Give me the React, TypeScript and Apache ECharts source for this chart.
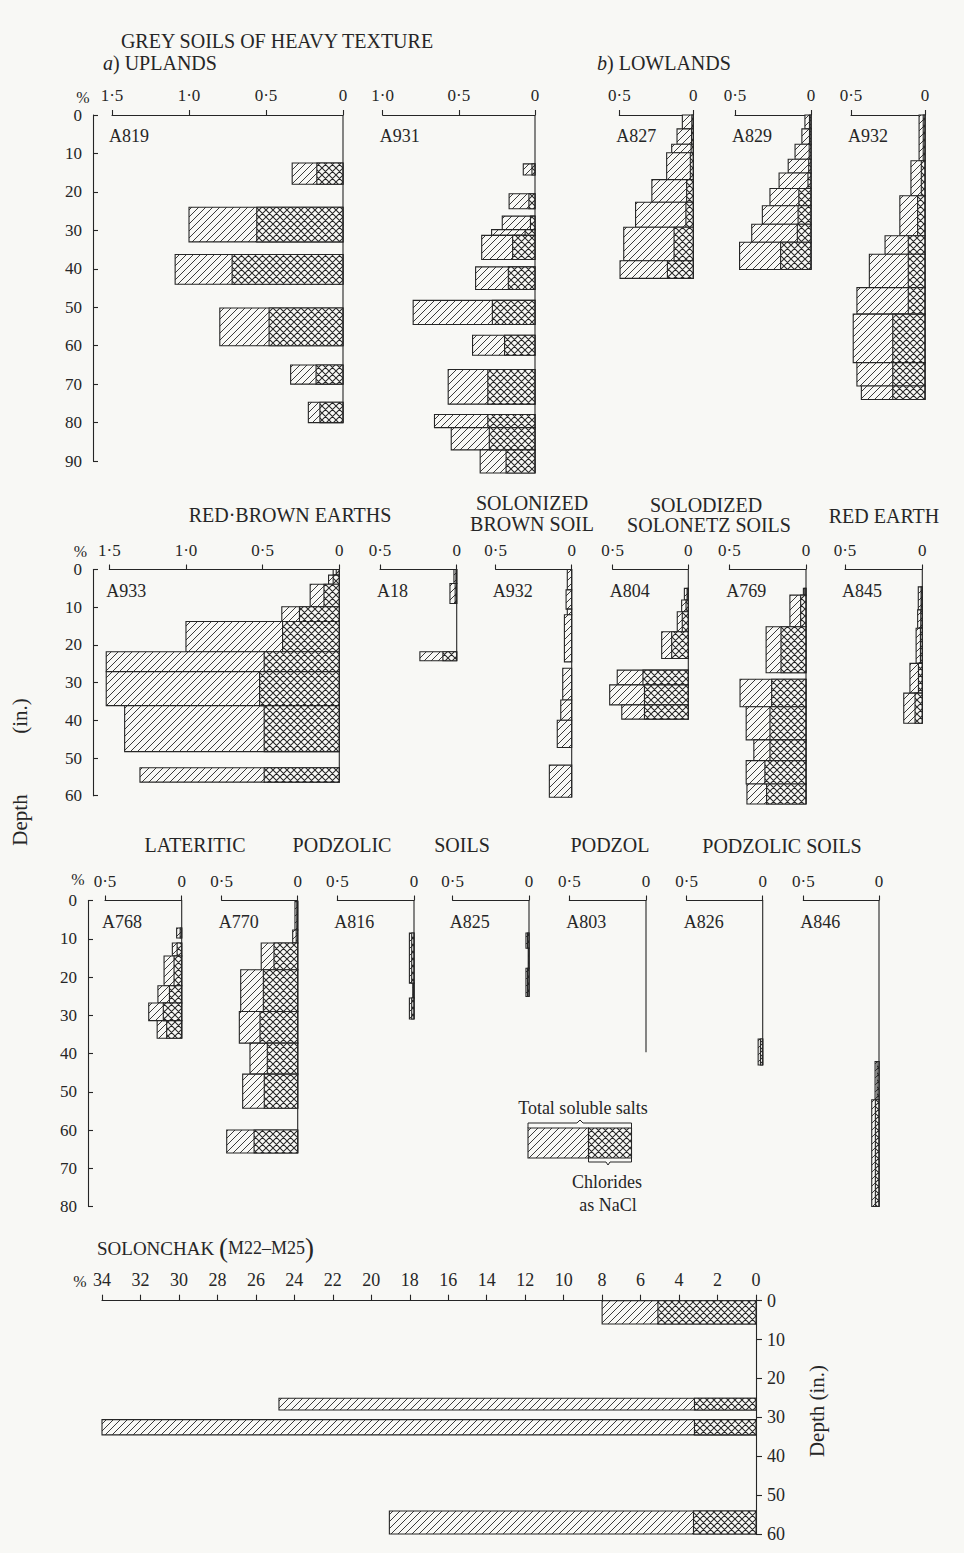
import React, { useEffect, useRef } from 'react';
import * as echarts from 'echarts';

// Each sample: [top depth (in.), bottom depth (in.), total soluble salts %, chlorides as NaCl %]
type Sample = [number, number, number, number];

// Grey soils of heavy texture — uplands
const A819: Sample[] = [
  [12.5, 18.0, 0.33, 0.17],
  [24.0, 33.0, 1.0, 0.56],
  [36.3, 44.0, 1.09, 0.72],
  [50.2, 60.0, 0.8, 0.48],
  [65.0, 70.0, 0.34, 0.175],
  [74.7, 80.0, 0.225, 0.15],
];
const A931: Sample[] = [
  [12.7, 15.6, 0.077, 0.02],
  [20.5, 24.4, 0.17, 0.04],
  [26.3, 29.8, 0.215, 0.03],
  [29.8, 31.3, 0.285, 0.065],
  [31.3, 37.6, 0.35, 0.147],
  [39.5, 45.4, 0.39, 0.175],
  [48.2, 54.5, 0.8, 0.28],
  [57.3, 62.5, 0.41, 0.2],
  [66.2, 75.2, 0.57, 0.31],
  [77.9, 81.3, 0.66, 0.31],
  [81.3, 87.1, 0.55, 0.3],
  [87.1, 93.1, 0.36, 0.19],
];
// Grey soils of heavy texture — lowlands
const A827: Sample[] = [
  [0, 3.6, 0.074, 0.01],
  [3.6, 7.6, 0.11, 0.012],
  [7.6, 9.8, 0.146, 0.015],
  [9.8, 16.8, 0.18, 0.02],
  [16.8, 22.7, 0.28, 0.045],
  [22.7, 29.2, 0.39, 0.05],
  [29.2, 37.9, 0.47, 0.13],
  [37.9, 42.5, 0.495, 0.175],
];
const A829: Sample[] = [
  [0, 3.6, 0.04, 0.01],
  [3.6, 7.6, 0.06, 0.01],
  [7.6, 11.5, 0.105, 0.012],
  [11.5, 15.1, 0.15, 0.015],
  [15.1, 19.1, 0.21, 0.02],
  [19.1, 23.6, 0.27, 0.08],
  [23.6, 28.4, 0.32, 0.085],
  [28.4, 33.1, 0.39, 0.09],
  [33.1, 40.2, 0.47, 0.2],
];
const A932_GREY: Sample[] = [
  [0, 11.9, 0.04, 0.012],
  [11.9, 21.0, 0.095, 0.025],
  [21.0, 31.4, 0.17, 0.05],
  [31.4, 36.2, 0.27, 0.113],
  [36.2, 44.9, 0.376, 0.113],
  [44.9, 51.8, 0.46, 0.113],
  [51.8, 64.4, 0.485, 0.218],
  [64.4, 70.5, 0.46, 0.218],
  [70.5, 74.0, 0.43, 0.218],
];
// Red-brown earths
const A933: Sample[] = [
  [0, 1.5, 0.04, 0.02],
  [1.5, 3.9, 0.07, 0.04],
  [3.9, 9.9, 0.19, 0.1],
  [9.9, 13.8, 0.375, 0.26],
  [13.8, 21.8, 1.0, 0.37],
  [21.8, 27.1, 1.52, 0.49],
  [27.1, 36.1, 1.52, 0.52],
  [36.1, 48.3, 1.4, 0.49],
  [52.6, 56.4, 1.3, 0.49],
];
const A18: Sample[] = [
  [0, 3.7, 0.018, 0.005],
  [3.7, 9.0, 0.044, 0.01],
  [21.8, 24.2, 0.24, 0.09],
];
// Solonized brown soil
const A932_SOLONIZED: Sample[] = [
  [0, 5.4, 0.029, 0],
  [5.4, 10.5, 0.037, 0],
  [10.5, 12.0, 0.029, 0],
  [12.0, 24.5, 0.048, 0],
  [26.2, 34.6, 0.059, 0],
  [34.6, 40.0, 0.072, 0],
  [40.0, 47.2, 0.095, 0],
  [51.9, 60.4, 0.147, 0],
];
// Solodized solonetz soils
const A804: Sample[] = [
  [5.0, 8.1, 0.026, 0.008],
  [8.1, 11.2, 0.044, 0.015],
  [11.2, 16.5, 0.073, 0.04],
  [16.5, 23.6, 0.176, 0.11],
  [26.7, 30.6, 0.47, 0.3],
  [30.6, 35.9, 0.52, 0.29],
  [35.9, 39.7, 0.44, 0.29],
];
const A769: Sample[] = [
  [5.0, 6.8, 0.017, 0.008],
  [6.8, 15.2, 0.105, 0.035],
  [15.2, 27.4, 0.26, 0.163],
  [29.1, 36.4, 0.43, 0.224],
  [36.4, 45.2, 0.39, 0.235],
  [45.2, 50.7, 0.34, 0.235],
  [50.7, 56.9, 0.39, 0.268],
  [56.9, 62.2, 0.385, 0.257],
];
// Red earth
const A845: Sample[] = [
  [4.6, 10.7, 0.026, 0.008],
  [10.7, 15.6, 0.03, 0.01],
  [15.6, 24.9, 0.04, 0.012],
  [24.9, 32.8, 0.08, 0.025],
  [32.8, 40.8, 0.12, 0.047],
];
// Lateritic podzolic soils
const A768: Sample[] = [
  [7.2, 9.8, 0.033, 0.01],
  [11.1, 14.5, 0.061, 0.03],
  [14.5, 22.3, 0.115, 0.05],
  [22.3, 26.8, 0.155, 0.08],
  [26.8, 31.4, 0.215, 0.12],
  [31.4, 36.0, 0.16, 0.098],
];
const A770: Sample[] = [
  [0.3, 7.7, 0.018, 0.006],
  [7.7, 11.1, 0.033, 0.01],
  [11.1, 18.1, 0.24, 0.156],
  [18.1, 29.0, 0.375, 0.226],
  [29.0, 37.3, 0.384, 0.248],
  [37.3, 45.4, 0.314, 0.2],
  [45.4, 54.3, 0.362, 0.22],
  [60.0, 66.0, 0.467, 0.287],
];
const A816: Sample[] = [
  [8.5, 21.6, 0.03, 0.015],
  [21.6, 25.5, 0.008, 0.004],
  [25.5, 31.0, 0.03, 0.015],
];
const A825: Sample[] = [
  [8.5, 12.5, 0.02, 0.01],
  [12.5, 17.7, 0.005, 0.002],
  [17.7, 25.1, 0.02, 0.01],
];
// Podzol
const A803: Sample[] = [[0, 39.7, 0, 0]];
// Podzolic soils
const A826: Sample[] = [[36.2, 43.0, 0.03, 0.015]];
const A846: Sample[] = [
  [42.1, 52.1, 0.026, 0.013],
  [52.1, 80.0, 0.048, 0.024],
];
// Solonchak (M22–M25)
const SOLONCHAK: Sample[] = [
  [0, 6.0, 8.0, 5.1],
  [25.1, 28.1, 24.8, 3.2],
  [30.6, 34.5, 34.0, 3.2],
  [54.1, 60.0, 19.06, 3.25],
];

const INK = '#262626';
const PAPER = '#f8f8f5';
const SERIF = '"Liberation Serif", "DejaVu Serif", serif';

// Row geometry: top of the depth scale, pixels per inch, plotted depth span, labelled depth axis
const ROWS = [
  { top: 115, ppi: 3.845, span: 95, axisMax: 90, axisX: 93 },
  { top: 569.5, ppi: 3.77, span: 63, axisMax: 60, axisX: 93 },
  { top: 900.5, ppi: 3.825, span: 81, axisMax: 80, axisX: 88 },
];

const PANELS = [
  { id: 'A819', samples: A819, max: 1.5, left: 112, right: 343, row: 0 },
  { id: 'A931', samples: A931, max: 1.0, left: 382.7, right: 535, row: 0 },
  { id: 'A827', samples: A827, max: 0.5, left: 619.3, right: 693.3, row: 0 },
  { id: 'A829', samples: A829, max: 0.5, left: 735, right: 811, row: 0 },
  { id: 'A932', samples: A932_GREY, max: 0.5, left: 851, right: 925, row: 0 },
  { id: 'A933', samples: A933, max: 1.5, left: 109.3, right: 339.3, row: 1 },
  { id: 'A18', samples: A18, max: 0.5, left: 380, right: 456.7, row: 1 },
  { id: 'A932', samples: A932_SOLONIZED, max: 0.5, left: 495.7, right: 571.7, row: 1 },
  { id: 'A804', samples: A804, max: 0.5, left: 612.7, right: 688.3, row: 1 },
  { id: 'A769', samples: A769, max: 0.5, left: 729.3, right: 806, row: 1 },
  { id: 'A845', samples: A845, max: 0.5, left: 845, right: 922.3, row: 1 },
  { id: 'A768', samples: A768, max: 0.5, left: 105, right: 181.7, row: 2 },
  { id: 'A770', samples: A770, max: 0.5, left: 221.7, right: 297.7, row: 2 },
  { id: 'A816', samples: A816, max: 0.5, left: 337.3, right: 414, row: 2 },
  { id: 'A825', samples: A825, max: 0.5, left: 452.7, right: 529, row: 2 },
  { id: 'A803', samples: A803, max: 0.5, left: 569.3, right: 646, row: 2 },
  { id: 'A826', samples: A826, max: 0.5, left: 686.7, right: 762.7, row: 2 },
  { id: 'A846', samples: A846, max: 0.5, left: 803.3, right: 879, row: 2 },
];

const SOLONCHAK_FRAME = { left: 102, right: 756, top: 1300.7, ppi: 3.888, depthMax: 60, pctMax: 34 };

const TITLES = [
  { text: 'GREY SOILS OF HEAVY TEXTURE', x: 277, y: 41 },
  { text: 'RED·BROWN EARTHS', x: 290, y: 515 },
  { text: 'SOLONIZED', x: 532, y: 503 },
  { text: 'BROWN SOIL', x: 532, y: 524 },
  { text: 'SOLODIZED', x: 706, y: 505 },
  { text: 'SOLONETZ SOILS', x: 709, y: 525 },
  { text: 'RED EARTH', x: 884, y: 516 },
  { text: 'LATERITIC', x: 195, y: 845 },
  { text: 'PODZOLIC', x: 342, y: 845 },
  { text: 'SOILS', x: 462, y: 845 },
  { text: 'PODZOL', x: 610, y: 845 },
  { text: 'PODZOLIC SOILS', x: 782, y: 846 },
];

const PERCENT_MARKS = [
  { x: 83, y: 97 },
  { x: 80.5, y: 551 },
  { x: 78, y: 879 },
  { x: 80, y: 1281 },
];

function tile(body: string, s: number) {
  const svg =
    `<svg xmlns="http://www.w3.org/2000/svg" width="${s}" height="${s}">` +
    `<rect width="${s}" height="${s}" fill="${PAPER}"/>${body}</svg>`;
  return {
    image: 'data:image/svg+xml;charset=utf-8,' + encodeURIComponent(svg),
    repeat: 'repeat',
    imageWidth: s,
    imageHeight: s,
  };
}

const HATCH = tile(
  `<path d="M-1 1L1 -1M0 7L7 0M6 8L8 6" stroke="${INK}" stroke-width="0.9" fill="none"/>`,
  7
);
const CROSS = tile(
  `<path d="M-1 1L1 -1M0 7L7 0M6 8L8 6M-1 6L1 8M0 0L7 7M6 -1L8 1" stroke="${INK}" stroke-width="1.05" fill="none"/>`,
  7
);

function barRenderer(fill: any) {
  return (_params: any, api: any) => {
    const top = api.value(0) as number;
    const bottom = api.value(1) as number;
    const pct = api.value(2) as number;
    if (!(pct > 0)) return { type: 'group', children: [] };
    const a = api.coord([pct, top]);
    const b = api.coord([0, bottom]);
    return {
      type: 'rect',
      shape: {
        x: Math.min(a[0], b[0]),
        y: Math.min(a[1], b[1]),
        width: Math.abs(b[0] - a[0]),
        height: Math.abs(b[1] - a[1]),
      },
      style: { fill, stroke: INK, lineWidth: 1.1 },
    };
  };
}

const decimalLabel = (v: number) => (v === 0 ? '0' : v.toFixed(1).replace('.', '·'));

const axisLine = { show: true, onZero: false, lineStyle: { color: INK, width: 1.1 } };
const labelStyle = { color: INK, fontFamily: SERIF, fontSize: 17 };

function buildOption() {
  const grid: any[] = [];
  const xAxis: any[] = [];
  const yAxis: any[] = [];
  const series: any[] = [];
  const graphic: any[] = [];

  const addProfileSeries = (gi: number, samples: Sample[], withZeroLine: boolean) => {
    const deepest = Math.max(...samples.map((s) => s[1]));
    if (withZeroLine) {
      series.push({
        type: 'line',
        xAxisIndex: gi,
        yAxisIndex: gi,
        data: [
          [0, 0],
          [0, deepest],
        ],
        symbol: 'none',
        clip: false,
        silent: true,
        lineStyle: { color: INK, width: 1.1 },
        z: 5,
      });
    }
    series.push({
      type: 'custom',
      name: 'Total soluble salts',
      coordinateSystem: 'cartesian2d',
      xAxisIndex: gi,
      yAxisIndex: gi,
      data: samples.map((s) => [s[0], s[1], s[2]]),
      encode: { x: 2, y: [0, 1] },
      renderItem: barRenderer(HATCH),
      clip: false,
      silent: true,
      z: 3,
    });
    series.push({
      type: 'custom',
      name: 'Chlorides as NaCl',
      coordinateSystem: 'cartesian2d',
      xAxisIndex: gi,
      yAxisIndex: gi,
      data: samples.map((s) => [s[0], s[1], s[3]]),
      encode: { x: 2, y: [0, 1] },
      renderItem: barRenderer(CROSS),
      clip: false,
      silent: true,
      z: 4,
    });
  };

  // Depth scales on the left of the first three rows
  ROWS.forEach((row) => {
    const gi = grid.length;
    grid.push({ left: row.axisX, top: row.top, width: 1, height: row.axisMax * row.ppi });
    xAxis.push({ gridIndex: gi, type: 'value', show: false, min: 0, max: 1 });
    yAxis.push({
      gridIndex: gi,
      type: 'value',
      position: 'left',
      inverse: true,
      min: 0,
      max: row.axisMax,
      interval: 10,
      axisLine: { show: true, lineStyle: { color: INK, width: 1.1 } },
      axisTick: { show: true, inside: true, length: 5, lineStyle: { color: INK, width: 1.1 } },
      axisLabel: { ...labelStyle, margin: 11 },
      splitLine: { show: false },
    });
  });

  // Profile panels
  PANELS.forEach((p) => {
    const row = ROWS[p.row];
    const gi = grid.length;
    grid.push({ left: p.left, top: row.top, width: p.right - p.left, height: row.span * row.ppi });
    xAxis.push({
      gridIndex: gi,
      type: 'value',
      position: 'top',
      inverse: true,
      min: 0,
      max: p.max,
      interval: 0.5,
      axisLine,
      axisTick: { show: true, length: 5, lineStyle: { color: INK, width: 1.1 } },
      axisLabel: { ...labelStyle, margin: 11, showMinLabel: true, showMaxLabel: true, formatter: decimalLabel },
      splitLine: { show: false },
    });
    yAxis.push({ gridIndex: gi, type: 'value', show: false, inverse: true, min: 0, max: row.span });
    addProfileSeries(gi, p.samples, true);
    graphic.push({
      type: 'text',
      x: p.left - 3,
      y: row.top + 21,
      style: {
        text: p.id,
        fill: INK,
        font: `18px ${SERIF}`,
        textAlign: 'left',
        align: 'left',
        textVerticalAlign: 'middle',
        verticalAlign: 'middle',
      },
    });
  });

  // Solonchak panel with its depth scale on the right
  {
    const f = SOLONCHAK_FRAME;
    const gi = grid.length;
    grid.push({ left: f.left, top: f.top, width: f.right - f.left, height: f.depthMax * f.ppi });
    xAxis.push({
      gridIndex: gi,
      type: 'value',
      position: 'top',
      inverse: true,
      min: 0,
      max: f.pctMax,
      interval: 2,
      axisLine,
      axisTick: { show: true, length: 6, lineStyle: { color: INK, width: 1.1 } },
      axisLabel: { ...labelStyle, fontSize: 18, margin: 12, showMinLabel: true, showMaxLabel: true },
      splitLine: { show: false },
    });
    yAxis.push({
      gridIndex: gi,
      type: 'value',
      position: 'right',
      inverse: true,
      min: 0,
      max: f.depthMax,
      interval: 10,
      axisLine: { show: true, lineStyle: { color: INK, width: 1.1 } },
      axisTick: { show: true, length: 6, lineStyle: { color: INK, width: 1.1 } },
      axisLabel: { ...labelStyle, fontSize: 18, margin: 11 },
      splitLine: { show: false },
    });
    addProfileSeries(gi, SOLONCHAK, false);
  }

  const text = (t: string, x: number, y: number, size: number, align = 'center', extra: any = {}) => ({
    type: 'text',
    x,
    y,
    ...extra,
    style: {
      text: t,
      fill: INK,
      font: `${size}px ${SERIF}`,
      textAlign: align,
      align,
      textVerticalAlign: 'middle',
      verticalAlign: 'middle',
    },
  });

  TITLES.forEach((t) => graphic.push(text(t.text, t.x, t.y, 20)));
  PERCENT_MARKS.forEach((m) => graphic.push(text('%', m.x, m.y, 16)));

  const italicLead = (t: string, x: number, y: number) => ({
    type: 'text',
    x,
    y,
    style: {
      text: t,
      fill: INK,
      font: `20px ${SERIF}`,
      align: 'left',
      textAlign: 'left',
      verticalAlign: 'middle',
      textVerticalAlign: 'middle',
      rich: {
        i: { fontStyle: 'italic', fontSize: 20, fontFamily: SERIF, fill: INK },
        n: { fontSize: 20, fontFamily: SERIF, fill: INK },
      },
    },
  });
  graphic.push(italicLead('{i|a}{n|) UPLANDS}', 103, 63));
  graphic.push(italicLead('{i|b}{n|) LOWLANDS}', 597, 63));

  graphic.push({
    type: 'text',
    x: 97,
    y: 1248,
    style: {
      text: '{t|SOLONCHAK }{p|(}{m|M22–M25}{p|)}',
      fill: INK,
      font: `19px ${SERIF}`,
      align: 'left',
      textAlign: 'left',
      verticalAlign: 'middle',
      textVerticalAlign: 'middle',
      rich: {
        t: { fontSize: 19, fontFamily: SERIF, fill: INK },
        p: { fontSize: 27, fontFamily: SERIF, fill: INK },
        m: { fontSize: 18, fontFamily: SERIF, fill: INK },
      },
    },
  });

  // Depth titles
  graphic.push(text('Depth', 20, 820, 21, 'center', { rotation: Math.PI / 2 }));
  graphic.push(text('(in.)', 20, 716, 21, 'center', { rotation: Math.PI / 2 }));
  graphic.push(text('Depth (in.)', 817, 1411, 21, 'center', { rotation: Math.PI / 2 }));

  // Key
  graphic.push(text('Total soluble salts', 583, 1108, 18));
  graphic.push({
    type: 'polyline',
    shape: {
      points: [
        [528, 1128],
        [528, 1123],
        [577, 1123],
        [580, 1120],
        [583, 1123],
        [631.5, 1123],
        [631.5, 1128],
      ],
    },
    style: { stroke: INK, lineWidth: 1, fill: 'none' },
  });
  graphic.push({
    type: 'rect',
    shape: { x: 528, y: 1128, width: 60.5, height: 30 },
    style: { fill: HATCH, stroke: INK, lineWidth: 1.1 },
  });
  graphic.push({
    type: 'rect',
    shape: { x: 588.5, y: 1128, width: 43, height: 30 },
    style: { fill: CROSS, stroke: INK, lineWidth: 1.1 },
  });
  graphic.push({
    type: 'polyline',
    shape: {
      points: [
        [588.5, 1158],
        [588.5, 1162],
        [606, 1162],
        [608, 1165],
        [610, 1162],
        [631.5, 1162],
        [631.5, 1158],
      ],
    },
    style: { stroke: INK, lineWidth: 1, fill: 'none' },
  });
  graphic.push(text('Chlorides', 607, 1182, 18));
  graphic.push(text('as NaCl', 608, 1205, 18));

  return {
    animation: false,
    backgroundColor: PAPER,
    grid,
    xAxis,
    yAxis,
    series,
    graphic,
  };
}

export default function App() {
  const ref = useRef<HTMLDivElement>(null);

  useEffect(() => {
    if (!ref.current) return;
    const chart = echarts.init(ref.current, undefined, { renderer: 'svg' });
    chart.setOption(buildOption() as any);
    return () => chart.dispose();
  }, []);

  return (
    <div
      ref={ref}
      style={{ position: 'absolute', left: 0, top: 0, width: 964, height: 1553, background: PAPER }}
    />
  );
}
